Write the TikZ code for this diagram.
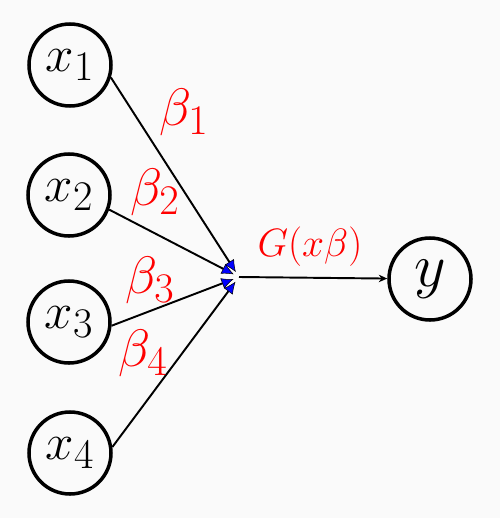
\RequirePackage{fix-cm}
\documentclass[tikz,border=0pt]{standalone}
\usepackage{amsmath}
\usepackage{xcolor}
\usepackage{tikz}
\usetikzlibrary{arrows.meta}
\definecolor{bgcol}{HTML}{FAFAFA}
\DeclareMathSizes{29}{29}{24}{20}
\DeclareMathSizes{30}{30}{24}{18}
\DeclareMathSizes{35}{35}{25}{20}

\begin{document}
\begin{tikzpicture}[>={Stealth[length=1.7mm,width=1.5mm]},
  neuron/.style={circle,draw,line width=2pt,minimum size=1.64cm,inner sep=0pt,font=\fontsize{29}{32}\selectfont},
  wlabel/.style={red,inner sep=0pt,font=\fontsize{30}{32}\selectfont},
  wire/.style={-{Latex[length=2.4mm,width=2.2mm,fill=blue,line width=0.3pt]},line width=1.1pt}]
  \fill[bgcol] (0,0) rectangle (10,-10.36);
  \useasboundingbox (0,0) rectangle (10,-10.36);
  \node[neuron] (x1) at (1.40,-1.30) {$x_1$};
  \node[neuron] (x2) at (1.38,-3.90) {$x_2$};
  \node[neuron] (x3) at (1.38,-6.44) {$x_3$};
  \node[neuron] (x4) at (1.40,-9.06) {$x_4$};
  \node[neuron,font=\fontsize{35}{38}\selectfont] (y) at (8.60,-5.58) {$y$};
  \node[circle,inner sep=0pt,minimum size=0.22cm] (hub) at (4.78,-5.54) {};
  \draw[wire] (x1.-17) -- (hub);
  \draw[wire] (x2.-20) -- (hub);
  \draw[wire] (x3.-5) -- (hub);
  \draw[wire] (x4.8) -- (hub);
  \draw[->,line width=1.1pt] (hub.center) -- (y);
  \node[wlabel] (b1) at (3.68,-2.24) {$\beta_1$};
  \node[wlabel] (b2) at (3.10,-3.84) {$\beta_2$};
  \node[wlabel] (b3) at (3.00,-5.60) {$\beta_3$};
  \node[wlabel] (b4) at (2.86,-7.06) {$\beta_4$};
  \node[red,inner sep=0pt,font=\fontsize{22.5}{25}\selectfont] (g) at (6.20,-4.94) {$G(x\beta)$};
\end{tikzpicture}
\end{document}
